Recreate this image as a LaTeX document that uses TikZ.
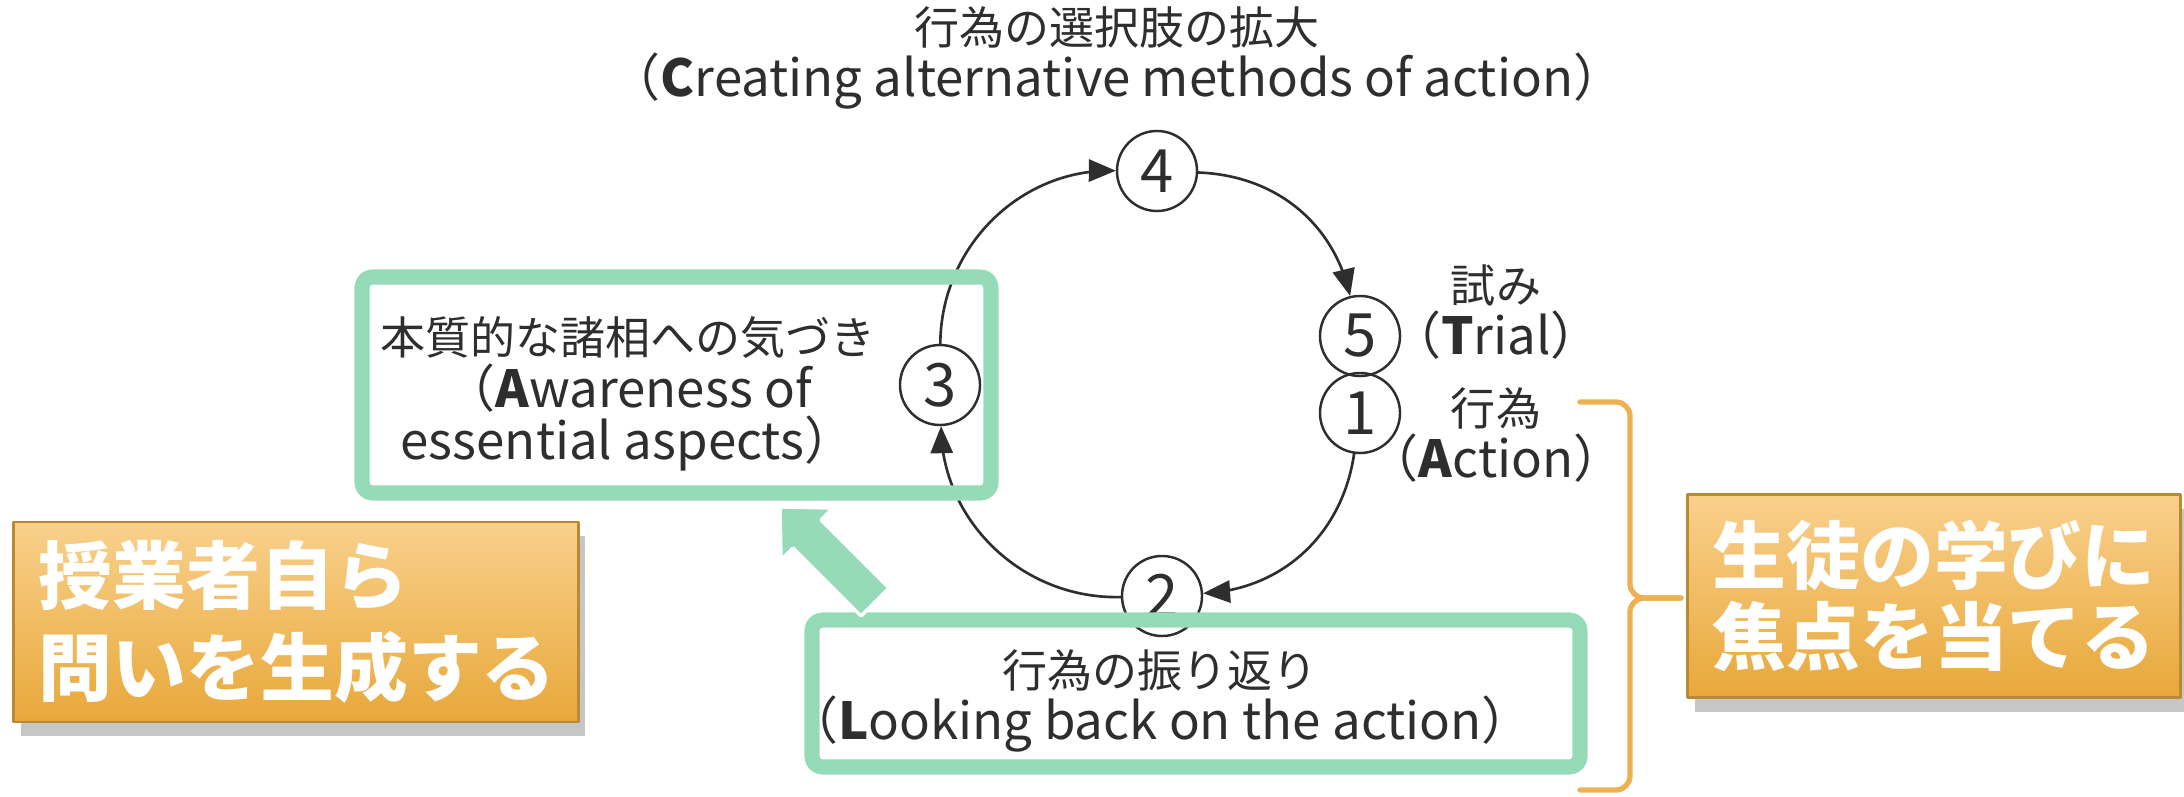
\documentclass[tikz,border=0pt]{standalone}
\usepackage{fontspec}
\setmainfont{Noto Sans CJK JP}
\usetikzlibrary{arrows,shadows}

\definecolor{ink}{HTML}{2E2E2E}
\definecolor{framegreen}{HTML}{96DBB8}
\definecolor{boxtop}{HTML}{F9D08C}
\definecolor{boxbottom}{HTML}{E8A83A}
\definecolor{boxedge}{HTML}{B98A35}
\definecolor{bracecol}{HTML}{EDB152}

% latin part of the labels is set a bit larger
\newcommand{\eng}[1]{{\fontsize{14.5pt}{15pt}\selectfont #1}}

\begin{document}
\begin{tikzpicture}[line cap=round,line join=round,>=triangle 45,x=0.01cm,y=-0.01cm,
	numcircle/.style={circle,draw=ink,line width=0.7pt,minimum size=0.8cm,inner sep=0pt,text=ink,font=\fontsize{17pt}{17pt}\selectfont},
	phasetext/.style={align=center,text=ink,font=\fontsize{12.8pt}{15pt}\selectfont},
	greenframe/.style={draw=framegreen,line width=4.3pt,rounded corners=3pt},
	orangebox/.style={top color=boxtop,bottom color=boxbottom,draw=boxedge,line width=0.8pt,text=white,
		drop shadow={shadow xshift=2pt,shadow yshift=-4pt,opacity=0.45},font=\fontsize{21pt}{26pt}\selectfont\bfseries}]
	\useasboundingbox (0,0) rectangle (2184,797);
	% the cycle
	\node[numcircle] (n4) at (1157,171) {4};
	\node[numcircle] (n5) at (1360,336) {5};
	\node[numcircle] (n1) at (1360,413) {1};
	\node[numcircle] (n2) at (1162,596) {2};
	\node[numcircle] (n3) at (940,385) {3};
	\draw[->,ink,line width=0.75pt] (n4) to[bend left=37] (n5);
	\draw[->,ink,line width=0.75pt] (n1) to[bend left=39] (n2);
	\draw[->,ink,line width=0.75pt] (n2) to[bend left=45] (n3);
	\draw[->,ink,line width=0.75pt] (n3) to[bend left=45] (n4);
	% texts
	\node[phasetext] (methods) at (1117,58) {行為の選択肢の拡大\\\eng{（\textbf{C}reating alternative methods of action）}};
	\node[phasetext] (trial) at (1496,312) {試み\\\eng{（\textbf{T}rial）}};
	\node[phasetext] (action) at (1496,435) {行為\\\eng{（\textbf{A}ction）}};
	\node[phasetext] (aware) at (628,394) {本質的な諸相への気づき\\\eng{（\textbf{A}wareness of}\\\eng{essential aspects）}};
	\node[phasetext] (looking) at (1160,701) {行為の振り返り\\\eng{（\textbf{L}ooking back on the action）}};
	% frames
	\draw[greenframe] (362,277) rectangle (991,493);
	\draw[greenframe] (812,620) rectangle (1580,767);
	\fill[framegreen,draw=white,line width=1pt] (780,507) -- (833,508) -- (821,520) -- (889,588) -- (861,616) -- (793,548) -- (781,560) -- cycle;
	% brace
	\draw[bracecol,line width=1.5pt,rounded corners=4pt] (1580,402) -- (1630,402) -- (1630,598) -- (1681,598);
	\draw[bracecol,line width=1.5pt,rounded corners=4pt] (1580,790) -- (1630,790) -- (1630,598) -- (1681,598);
	% orange boxes
	\node[orangebox,minimum width=5.64cm,minimum height=2cm,text width=5.14cm,inner xsep=0.25cm,align=left] (teacher) at (296,622) {授業者自ら\\問いを生成する};
	\node[orangebox,minimum width=4.92cm,minimum height=2.03cm,align=center,font=\fontsize{21pt}{23pt}\selectfont\bfseries] (students) at (1934,596) {生徒の学びに\\焦点を当てる};
\end{tikzpicture}
\end{document}
